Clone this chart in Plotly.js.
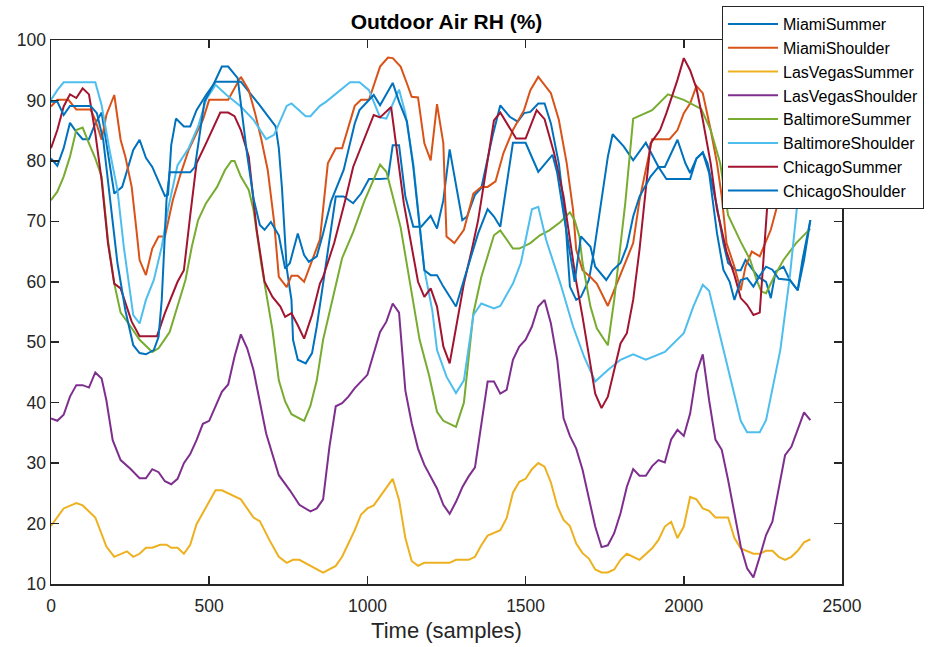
<!DOCTYPE html>
<html>
<head>
<meta charset="utf-8">
<script src="https://cdn.plot.ly/plotly-3.0.1.min.js"></script>
<style>html,body{margin:0;padding:0;background:#fff}#chart{width:933px;height:647px}</style>
</head>
<body>
<div id="chart"></div>
<script>
// ---- data (sample index, RH %) ----
const seriesNames = ["MiamiSummer","MiamiShoulder","LasVegasSummer","LasVegasShoulder","BaltimoreSummer","BaltimoreShoulder","ChicagoSummer","ChicagoShoulder"];
const seriesColors = ["#0072BD","#D95319","#EDB120","#7E2F8E","#77AC30","#4DBEEE","#A2142F","#0072BD"];

const miamiSummerX = [0,20,40,60,80,100,120,140,160,200,225,260,280,300,320,335,360,370,380,395,420,440,460,490,520,600,660,710,720,730,745,760,765,780,805,825,840,860,880,900,925,955,980,1005,1040,1065,1080,1100,1120,1145,1170,1200,1220,1240,1260,1280,1300,1315,1340,1360,1395,1420,1450,1475,1495,1515,1540,1560,1580,1605,1625,1640,1660,1675,1700,1715,1740,1760,1775,1810,1840,1880,1920,1940,1980,2005,2020,2040,2060,2075,2105,2125,2140,2165,2180,2195,2235,2260,2275,2290,2315,2335,2360,2375,2400];
const miamiSummerY = [80.4,79.2,82.1,86.3,84.8,83.6,83.6,86.2,88.0,74.6,75.7,81.8,83.5,80.5,79.0,77.1,74.2,74.4,82.6,87.0,85.7,85.7,88.4,90.9,93.1,93.1,89.2,85.7,82.1,75.5,62.2,57.0,50.4,47.1,46.5,48.2,52.6,59.7,66.9,74.1,74.1,73.0,74.6,77.0,77.0,77.1,82.6,82.6,74.1,69.1,69.1,70.9,68.8,73.5,81.9,75.7,70.2,70.8,74.4,75.5,84.0,89.2,87.3,86.5,87.9,88.1,89.5,89.5,86.2,79.6,70.8,59.2,57.0,57.5,60.3,64.7,73.5,80.7,84.4,82.4,80.1,83.0,79.0,79.0,83.5,79.6,78.0,80.4,81.4,79.6,72.4,66.4,63.1,61.9,61.9,63.6,60.8,60.0,57.3,61.7,62.5,60.3,58.6,63.6,70.2];

const miamiShoulderX = [0,20,55,80,125,140,160,175,200,220,235,255,270,280,300,320,340,360,375,385,410,435,460,480,500,560,600,625,645,665,685,705,720,745,760,780,800,825,850,875,900,920,940,960,980,1005,1040,1065,1080,1105,1125,1140,1160,1180,1200,1220,1240,1250,1275,1305,1335,1360,1380,1405,1430,1460,1495,1515,1540,1580,1605,1630,1650,1660,1680,1705,1725,1745,1760,1780,1810,1840,1860,1880,1900,1955,1980,2000,2020,2040,2060,2085,2105,2120,2135,2160,2180,2195,2215,2240,2275,2300,2320,2340,2360,2380,2400];
const miamiShoulderY = [89.0,90.1,90.1,88.5,88.5,86.8,83.5,87.6,90.9,83.5,80.7,75.7,68.6,63.6,61.1,65.5,67.5,67.5,71.1,73.5,77.9,81.8,84.6,86.8,90.1,90.1,93.9,91.7,87.9,83.5,78.5,70.0,60.8,59.1,61.0,61.0,60.0,63.5,67.0,79.6,82.1,82.1,85.7,89.1,90.1,90.1,95.6,97.1,97.0,95.6,92.8,90.6,90.5,82.9,80.1,89.4,82.9,67.5,66.4,68.6,74.6,75.7,75.7,76.6,81.3,85.1,88.4,91.7,93.9,91.2,86.8,79.6,71.9,65.3,61.9,60.8,59.7,57.5,56.0,58.6,62.5,66.4,73.5,78.5,83.6,83.6,85.1,87.9,89.5,92.4,91.2,85.1,79.6,74.1,66.4,62.5,58.6,62.5,65.0,64.2,68.6,73.5,77.0,80.0,83.0,85.0,87.0];

const lasVegasSummerX = [0,40,80,100,140,175,200,240,260,280,300,320,345,365,380,400,420,440,460,480,520,540,600,640,660,690,720,745,765,785,860,900,920,940,960,980,1000,1020,1080,1100,1120,1140,1160,1180,1260,1280,1320,1340,1360,1380,1420,1440,1460,1480,1500,1520,1540,1560,1580,1600,1620,1640,1660,1680,1700,1720,1740,1760,1780,1800,1820,1860,1900,1920,1940,1960,1980,2000,2020,2040,2060,2080,2100,2140,2160,2180,2200,2220,2240,2260,2280,2300,2320,2340,2360,2380,2400];
const lasVegasSummerY = [19.6,22.5,23.4,23.0,21.0,16.2,14.5,15.4,14.5,15.0,16.0,16.0,16.5,16.5,16.0,16.0,15.0,16.5,19.9,21.7,25.5,25.5,24.0,21.0,20.4,17.3,14.5,13.5,14.0,14.0,11.9,13.0,14.5,16.7,18.9,21.5,22.5,23.0,27.4,23.9,17.6,13.8,13.0,13.5,13.5,14.0,14.0,14.5,16.4,18.0,18.9,20.9,25.1,26.9,27.4,29.0,30.0,29.4,26.8,22.9,20.6,19.6,16.7,15.1,14.2,12.4,11.9,11.9,12.4,14.0,15.0,14.0,15.9,17.3,19.5,20.3,17.6,19.5,24.4,24.0,22.5,22.1,21.0,21.0,17.6,15.9,15.5,15.0,15.0,15.5,15.5,14.5,14.0,14.5,15.5,16.9,17.4];

const lasVegasShoulderX = [0,20,40,60,80,100,120,140,160,175,195,220,250,280,300,320,340,360,380,400,420,440,460,480,500,540,560,580,600,620,640,660,680,720,755,785,820,840,860,880,900,920,940,960,980,1000,1040,1060,1080,1100,1120,1140,1160,1180,1220,1240,1260,1280,1300,1320,1340,1360,1380,1400,1420,1440,1460,1480,1500,1520,1540,1560,1580,1600,1620,1640,1660,1680,1700,1720,1740,1760,1780,1800,1820,1840,1860,1880,1900,1920,1940,1960,1980,2000,2020,2040,2060,2080,2100,2120,2140,2160,2180,2200,2220,2240,2260,2280,2300,2320,2340,2360,2380,2400];
const lasVegasShoulderY = [37.4,37.0,38.0,41.0,42.9,42.9,42.5,45.0,44.0,40.4,33.8,30.5,29.1,27.5,27.5,29.0,28.5,27.0,26.5,27.4,30.0,31.5,33.8,36.5,37.0,41.8,43.0,47.6,51.3,49.0,45.4,40.4,34.9,28.0,25.5,23.1,22.0,22.5,24.0,32.7,39.4,39.9,41.0,42.4,43.5,44.6,51.7,53.4,56.4,54.9,42.0,36.6,32.4,29.7,25.8,23.1,21.6,23.6,26.0,27.8,29.3,36.6,43.5,43.5,41.5,42.1,47.1,49.3,50.4,52.6,55.9,57.0,53.1,47.1,37.4,34.5,32.4,28.9,23.9,19.5,16.1,16.4,18.4,21.7,26.1,29.0,27.9,27.9,29.5,30.5,30.1,33.9,35.5,34.5,38.2,44.9,48.0,40.4,33.9,32.2,27.2,21.7,16.2,12.6,11.1,14.5,18.1,20.3,26.1,31.3,32.7,35.5,38.4,37.1];

const baltimoreSummerX = [0,20,40,60,80,100,120,140,160,180,200,220,245,280,320,340,375,400,425,445,465,490,525,550,570,580,600,625,640,665,685,700,720,740,760,800,820,840,860,890,920,955,990,1040,1060,1080,1105,1135,1165,1195,1220,1240,1280,1305,1335,1360,1400,1420,1460,1480,1515,1545,1575,1610,1640,1655,1670,1680,1705,1725,1760,1780,1805,1815,1840,1900,1950,2000,2055,2085,2115,2140,2180,2210,2230,2245,2260,2285,2315,2355,2400];
const baltimoreSummerY = [73.5,74.9,77.4,80.7,85.1,85.5,82.9,80.4,77.4,66.9,59.7,54.9,53.1,50.4,48.4,49.0,51.7,55.9,60.3,65.8,70.2,73.0,75.7,78.5,80.0,80.0,77.4,75.2,71.9,62.8,57.0,52.0,43.7,40.2,38.1,37.0,39.5,43.7,50.4,57.0,63.9,68.2,73.3,79.4,78.2,74.2,69.0,59.7,50.4,44.5,38.5,37.0,36.0,40.0,54.8,60.8,67.7,68.5,65.5,65.5,66.4,67.7,68.5,69.9,71.5,70.2,67.5,63.1,55.9,52.3,49.5,57.0,68.0,73.0,87.0,88.4,91.0,90.1,88.6,85.1,79.6,71.0,66.6,63.6,60.3,58.4,58.1,60.8,63.6,66.4,68.8];

const baltimoreShoulderX = [0,20,40,140,160,185,210,230,260,280,300,325,350,370,400,435,465,490,520,555,600,640,680,705,745,760,805,820,850,870,945,975,1005,1040,1060,1100,1120,1145,1180,1205,1220,1250,1280,1305,1335,1360,1400,1420,1460,1485,1500,1520,1540,1565,1610,1650,1685,1720,1760,1800,1840,1880,1940,2000,2030,2060,2080,2105,2135,2165,2180,2200,2240,2260,2285,2305,2335,2360,2380,2400];
const baltimoreShoulderY = [90.1,91.7,93.0,93.0,89.2,81.8,75.2,65.8,54.5,53.1,57.0,60.3,65.8,72.0,79.3,82.1,85.7,90.1,92.6,90.9,89.0,86.8,83.6,84.3,89.1,89.5,87.4,87.4,89.1,89.8,93.0,93.0,91.7,87.2,87.0,91.8,87.9,79.6,62.0,55.3,48.7,44.3,41.6,43.7,54.5,56.4,55.6,56.0,59.7,63.1,66.9,72.0,72.4,66.9,59.7,52.6,47.6,43.5,45.4,47.1,48.0,47.1,48.4,51.5,55.9,59.5,58.5,53.1,46.5,40.4,37.0,35.1,35.1,37.1,43.7,48.7,60.8,73.5,81.0,88.0];

const chicagoSummerX = [0,20,40,60,80,100,120,140,160,180,200,220,255,280,335,360,400,420,440,460,490,520,535,560,580,600,625,650,675,700,725,740,760,780,800,825,850,860,895,930,955,1020,1040,1075,1095,1115,1160,1180,1200,1220,1240,1260,1275,1305,1330,1350,1400,1420,1470,1500,1535,1560,1590,1620,1640,1660,1680,1700,1720,1740,1760,1800,1820,1840,1860,1895,1925,1945,1980,2000,2020,2040,2060,2085,2105,2115,2135,2160,2180,2200,2220,2240,2265,2280,2300,2320,2340,2360,2380,2400];
const chicagoSummerY = [82.1,85.1,89.0,91.0,90.4,92.0,91.0,84.6,76.8,66.4,59.7,58.9,53.4,51.0,51.0,54.8,60.0,61.9,71.0,79.6,82.9,86.5,88.0,88.0,87.4,85.1,80.7,68.6,60.0,57.5,55.9,54.2,54.8,52.8,50.6,54.5,59.7,60.8,66.4,73.5,79.0,87.6,87.2,88.9,80.7,73.0,60.0,57.5,58.9,55.9,49.3,46.5,50.9,59.7,65.3,70.2,86.7,88.0,83.7,83.7,88.4,86.9,81.3,74.1,67.0,60.0,54.2,48.2,41.5,39.1,41.0,49.8,51.5,57.0,65.3,82.9,85.1,87.9,93.4,97.0,95.0,92.0,86.8,79.6,71.9,69.7,65.0,61.1,57.3,56.2,54.5,54.9,73.5,79.0,84.0,86.0,88.0,87.0,86.0,85.0];

const chicagoShoulderX = [0,20,40,60,125,145,165,210,235,260,280,300,325,340,350,365,375,440,455,485,515,540,560,590,620,640,660,675,695,720,740,755,780,800,815,840,860,885,925,960,975,1020,1040,1080,1100,1125,1145,1165,1180,1200,1220,1240,1260,1280,1305,1325,1350,1380,1400,1420,1440,1460,1500,1540,1585,1600,1620,1640,1655,1675,1705,1720,1755,1775,1800,1820,1840,1860,1895,1920,1945,2020,2040,2060,2080,2105,2125,2145,2160,2180,2200,2220,2240,2260,2280,2300,2335,2360,2380,2400];
const chicagoShoulderY = [89.8,89.8,87.6,89.1,89.1,87.9,83.5,63.1,55.3,49.5,48.2,48.0,48.7,50.9,57.0,73.5,78.1,78.1,79.0,89.8,92.8,95.6,95.6,93.7,81.0,73.8,69.4,68.6,69.9,67.7,62.2,63.1,68.0,64.4,63.3,64.2,68.0,73.3,78.5,86.2,88.4,90.9,89.2,92.9,89.8,86.5,79.0,69.7,61.9,61.1,61.1,59.2,57.5,55.9,60.3,63.6,68.0,72.0,70.8,69.1,75.7,83.0,83.0,78.2,81.0,78.0,71.3,65.0,60.0,67.5,65.8,62.5,60.3,61.9,63.1,65.8,70.8,74.1,77.4,79.0,77.0,77.0,80.4,81.4,78.0,68.0,62.0,60.0,57.0,60.3,60.6,59.2,61.0,62.5,62.0,60.5,60.3,58.6,63.6,70.2];

const xTicks = [0,500,1000,1500,2000,2500];
const yTicks = [10,20,30,40,50,60,70,80,90,100];

const xs = [miamiSummerX,miamiShoulderX,lasVegasSummerX,lasVegasShoulderX,baltimoreSummerX,baltimoreShoulderX,chicagoSummerX,chicagoShoulderX];
const ys = [miamiSummerY,miamiShoulderY,lasVegasSummerY,lasVegasShoulderY,baltimoreSummerY,baltimoreShoulderY,chicagoSummerY,chicagoShoulderY];

const FONT = 'Liberation Sans, Arial, Helvetica, sans-serif';

const traces = seriesNames.map((n,i)=>({
  type:'scatter', mode:'lines', name:n, x:xs[i], y:ys[i],
  line:{color:seriesColors[i], width:2}
}));

const axisCommon = {
  showgrid:false, zeroline:false, showline:true, linecolor:'#262626', linewidth:1.5,
  mirror:'ticks', ticks:'inside', ticklen:8, tickwidth:1.5, tickcolor:'#262626',
  tickfont:{family:FONT, size:17.5, color:'#262626'}
};

const layout = {
  width:933, height:647,
  margin:{l:51, r:91, t:40, b:63, pad:0, autoexpand:false},
  paper_bgcolor:'#fff', plot_bgcolor:'#fff',
  font:{family:FONT, color:'#262626'},
  title:{text:'<b>Outdoor Air RH (%)</b>', x:0.5, xref:'paper', xanchor:'center', y:1-22/647, yref:'container', yanchor:'middle',
         font:{family:FONT, size:21, color:'#000'}},
  xaxis:Object.assign({}, axisCommon, {range:[0,2500], tickvals:xTicks, ticktext:xTicks.map(String), ticklabelstandoff:5,
         title:{text:'Time (samples)', standoff:8, font:{family:FONT, size:22, color:'#262626'}}}),
  yaxis:Object.assign({}, axisCommon, {range:[10,100], tickvals:yTicks, ticktext:yTicks.map(String)}),
  showlegend:true,
  legend:{x:(722-51)/791, xanchor:'left', y:(584-6)/544, yanchor:'top', bgcolor:'#fff', bordercolor:'#262626', borderwidth:1,
          itemwidth:50, font:{family:FONT, size:16, color:'#000'}, traceorder:'normal'}
};

Plotly.newPlot('chart', traces, layout, {staticPlot:true, displayModeBar:false});
</script>
</body>
</html>
